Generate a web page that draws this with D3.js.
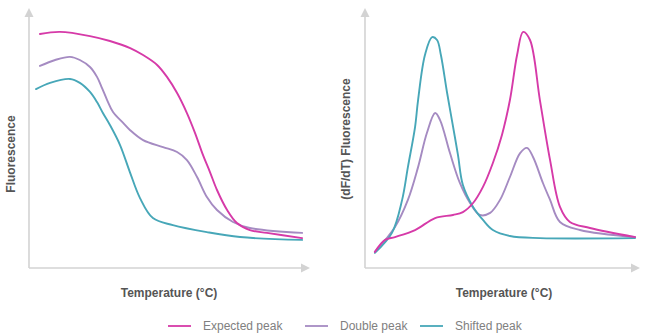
<!DOCTYPE html>
<html>
<head>
<meta charset="utf-8">
<script src="https://cdn.jsdelivr.net/npm/d3@7"></script>
<style>
  html, body { margin: 0; padding: 0; background: #fff; }
  svg { display: block; font-family: "Liberation Sans", Arial, sans-serif; }
</style>
</head>
<body>
<svg id="chart" width="650" height="335"></svg>
<script>
// ---------- DATA (temperature in arbitrary 0–100 units, signal in 0–100 units) ----------
const seriesNames = ["Expected peak", "Double peak", "Shifted peak"];
const seriesColors = ["#d63aa8", "#a58bc2", "#47a7b8"];

// Melt curves (left panel): Fluorescence vs Temperature
const meltExpectedT = [3.9, 11.0, 21.7, 28.8, 36.0, 40.6, 45.6, 49.1, 52.7, 56.2, 59.1, 61.9, 64.4, 66.9, 70.5, 74.0, 78.6, 84.7, 97.2];
const meltExpectedF = [90.0, 90.8, 89.2, 87.3, 84.6, 81.9, 78.1, 73.5, 67.3, 59.6, 51.9, 43.5, 36.9, 30.0, 22.3, 17.3, 14.6, 13.5, 11.5];

const meltDoubleT = [3.9, 9.3, 14.6, 18.1, 21.7, 24.2, 26.0, 27.8, 29.9, 33.5, 35.9, 40.6, 47.7, 52.7, 56.2, 59.8, 63.3, 66.9, 72.6, 78.6, 97.2];
const meltDoubleF = [77.7, 80.0, 81.2, 80.0, 77.3, 73.5, 69.2, 64.6, 60.0, 55.8, 53.1, 49.2, 46.5, 44.6, 41.5, 35.0, 27.3, 22.3, 17.7, 15.4, 13.5];

const meltShiftedT = [2.5, 7.5, 14.6, 18.1, 21.7, 24.2, 26.3, 28.8, 32.4, 35.9, 39.5, 44.1, 51.2, 63.3, 75.1, 97.2];
const meltShiftedF = [68.8, 71.2, 72.7, 71.2, 67.7, 63.8, 59.6, 55.0, 47.3, 36.9, 26.9, 19.2, 16.5, 13.8, 11.9, 10.8];

// Derivative curves (right panel): (dF/dT) Fluorescence vs Temperature
const derivExpectedT = [3.6, 7.3, 10.9, 18.2, 25.5, 32.0, 35.6, 39.3, 42.9, 46.5, 49.8, 52.7, 55.3, 57.5, 60.0, 63.6, 67.3, 70.9, 74.5, 81.8, 98.2];
const derivExpectedF = [6.2, 10.8, 11.9, 14.6, 19.2, 20.4, 21.5, 25.0, 31.2, 40.4, 51.2, 64.6, 81.9, 90.8, 87.7, 64.6, 41.5, 23.5, 17.7, 15.4, 11.9];

const derivDoubleT = [3.6, 10.9, 15.6, 19.3, 22.5, 25.5, 27.3, 30.9, 34.5, 38.2, 41.8, 45.5, 49.1, 52.7, 56.4, 58.9, 61.1, 64.7, 67.3, 70.9, 78.2, 98.2];
const derivDoubleF = [6.2, 15.8, 26.2, 38.8, 51.9, 59.6, 56.9, 44.2, 32.7, 25.0, 20.4, 21.2, 26.2, 35.0, 44.2, 46.2, 42.7, 32.7, 26.2, 17.7, 14.6, 11.9];

const derivShiftedT = [3.6, 9.8, 13.5, 15.6, 18.2, 19.3, 21.8, 24.4, 26.2, 27.6, 29.8, 31.6, 33.8, 35.6, 39.3, 42.9, 46.5, 52.7, 63.6, 98.2];
const derivShiftedF = [5.8, 13.5, 26.2, 38.8, 54.2, 64.6, 81.9, 88.8, 87.7, 81.9, 67.7, 56.9, 43.5, 31.9, 23.5, 18.5, 14.6, 12.3, 11.5, 11.5];

const xLabel = "Temperature (°C)";
const yLabelLeft = "Fluorescence";
const yLabelRight = "(dF/dT) Fluorescence";

// ---------- DRAWING ----------
const svg = d3.select("#chart");
const axisColor = "#d3d3d3";
const labelColor = "#555";

const panels = [
  { x0: 29, x1: 310, len: 281, yLabel: yLabelLeft, yLabelX: 15, yLabelY: 154, xLabelX: 169,
    series: [[meltExpectedT, meltExpectedF], [meltDoubleT, meltDoubleF], [meltShiftedT, meltShiftedF]],
    order: [1, 2, 0] },
  { x0: 365, x1: 640, len: 275, yLabel: yLabelRight, yLabelX: 350, yLabelY: 139, xLabelX: 504,
    series: [[derivExpectedT, derivExpectedF], [derivDoubleT, derivDoubleF], [derivShiftedT, derivShiftedF]],
    order: [1, 2, 0] }
];

const yTop = 8, yBottom = 268;

panels.forEach(p => {
  const xs = d3.scaleLinear().domain([0, 100]).range([p.x0, p.x0 + p.len]);
  const y = d3.scaleLinear().domain([0, 100]).range([yBottom, yBottom - 260]);
  const g = svg.append("g");

  // axes
  g.append("line").attr("x1", p.x0).attr("x2", p.x0).attr("y1", yBottom).attr("y2", yTop + 7)
    .attr("stroke", axisColor).attr("stroke-width", 1.6);
  g.append("line").attr("x1", p.x0).attr("x2", p.x1 - 7).attr("y1", yBottom).attr("y2", yBottom)
    .attr("stroke", axisColor).attr("stroke-width", 1.6);
  g.append("path")
    .attr("d", `M${p.x0},${yTop} L${p.x0 - 4.5},${yTop + 9} L${p.x0 + 4.5},${yTop + 9} Z`)
    .attr("fill", axisColor);
  g.append("path")
    .attr("d", `M${p.x1},${yBottom} L${p.x1 - 9},${yBottom - 4.5} L${p.x1 - 9},${yBottom + 4.5} Z`)
    .attr("fill", axisColor);

  // labels
  g.append("text").text(p.yLabel)
    .attr("transform", `translate(${p.yLabelX},${p.yLabelY}) rotate(-90)`)
    .attr("text-anchor", "middle")
    .attr("font-size", 12).attr("font-weight", "bold").attr("fill", labelColor);
  g.append("text").text(xLabel)
    .attr("x", p.xLabelX).attr("y", 297)
    .attr("text-anchor", "middle")
    .attr("font-size", 12).attr("font-weight", "bold").attr("fill", labelColor);

  const line = d3.line().x(d => xs(d[0])).y(d => y(d[1])).curve(d3.curveCatmullRom.alpha(0.5));
  p.order.forEach(i => {
    const [T, F] = p.series[i];
    const pts = T.map((t, k) => [t, F[k]]);
    g.append("path").datum(pts).attr("d", line)
      .attr("fill", "none").attr("stroke", seriesColors[i])
      .attr("stroke-width", 1.9).attr("stroke-linejoin", "round").attr("stroke-linecap", "round");
  });
});

// legend
const legendLineX = [168, 305, 420];
const legend = svg.append("g");
seriesNames.forEach((name, i) => {
  legend.append("line")
    .attr("x1", legendLineX[i]).attr("x2", legendLineX[i] + 23)
    .attr("y1", 326).attr("y2", 326)
    .attr("stroke", seriesColors[i]).attr("stroke-width", 1.8);
  legend.append("text").text(name)
    .attr("x", legendLineX[i] + 35).attr("y", 330)
    .attr("font-size", 12).attr("fill", "#808080");
});
</script>
</body>
</html>
